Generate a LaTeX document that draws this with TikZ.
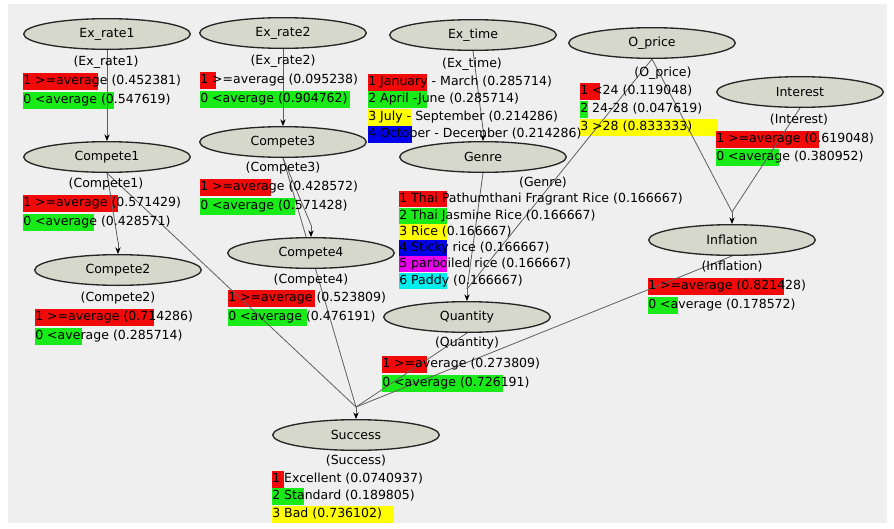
\documentclass[tikz,border=0pt]{standalone}
\usepackage{fontspec}
\setmainfont{DejaVu Sans}
\usetikzlibrary{arrows.meta,shapes.geometric}
\pgfdeclarelayer{bg}
\pgfdeclarelayer{edges}
\pgfsetlayers{bg,edges,main}
\definecolor{bgc}{RGB}{239,239,239}
\definecolor{nodefill}{RGB}{214,216,203}
\definecolor{edgec}{RGB}{95,95,95}
\definecolor{sred}{RGB}{240,10,10}
\definecolor{sgreen}{RGB}{25,235,25}
\definecolor{syellow}{RGB}{255,255,0}
\definecolor{sblue}{RGB}{0,0,235}
\definecolor{smag}{RGB}{235,0,235}
\definecolor{scyan}{RGB}{0,240,240}
\newcommand{\dnfont}{\fontsize{9.4pt}{11pt}\selectfont}
% name, x, y, colour, bar width, bar height, text
\newcommand{\stateline}[7]{%
  \begin{pgfonlayer}{bg}\fill[#4] (#2,#3-#6/2) rectangle ++(#5,#6);\end{pgfonlayer}
  \node[st] (#1) at (#2,#3) {#7};}
\tikzset{
  var/.style={ellipse, draw=black!85, line width=1pt, fill=nodefill,
    minimum width=125pt, minimum height=23pt, inner sep=0pt, font=\dnfont},
  lab/.style={inner sep=0pt, font=\dnfont, text height=7pt, text depth=2pt},
  st/.style={anchor=west, inner sep=0pt, font=\dnfont, text height=7pt, text depth=2pt},
  edge/.style={draw=edgec, line width=0.6pt},
  arr/.style={draw=edgec, line width=0.6pt, -{Stealth[length=5pt,width=4pt,color=black]}},
}
\begin{document}
\begin{tikzpicture}[x=0.75pt,y=-0.75pt]
\useasboundingbox (0,0) rectangle (894,529);
\begin{pgfonlayer}{bg}
\fill[white] (0,0) rectangle (894,529);
\fill[bgc] (8,4) rectangle (887,523);
\end{pgfonlayer}

% ---------- variables ----------
\node[var] (er1) at (107,34) {Ex\_rate1};
\node[var] (er2) at (283,33) {Ex\_rate2};
\node[var] (ext) at (473,35) {Ex\_time};
\node[var] (opr) at (652,43) {O\_price};
\node[var] (int) at (800,92) {Interest};
\node[var] (c1) at (107,157) {Compete1};
\node[var] (c3) at (283,142) {Compete3};
\node[var] (gen) at (483,157) {Genre};
\node[var] (c2) at (118,270) {Compete2};
\node[var] (c4) at (311,253) {Compete4};
\node[var] (inf) at (732,240) {Inflation};
\node[var] (qty) at (467,317) {Quantity};
\node[var] (suc) at (356,435) {Success};

% ---------- state tables ----------
\node[lab] (er1-l) at (106,62) {(Ex\_rate1)};
\stateline{er1-1}{23}{81}{sred}{75}{17}{1 >=average (0.452381)}
\stateline{er1-2}{23}{100}{sgreen}{91}{17}{0 <average (0.547619)}

\node[lab] (er2-l) at (283,61) {(Ex\_rate2)};
\stateline{er2-1}{200}{80}{sred}{16}{17}{1 >=average (0.095238)}
\stateline{er2-2}{200}{99}{sgreen}{150}{17}{0 <average (0.904762)}

\node[lab] (ext-l) at (472,64) {(Ex\_time)};
\stateline{ext-1}{368}{82}{sred}{59}{17}{1 January - March (0.285714)}
\stateline{ext-2}{368}{99}{sgreen}{59}{17}{2 April -June (0.285714)}
\stateline{ext-3}{368}{117}{syellow}{44}{17}{3 July - September (0.214286)}
\stateline{ext-4}{368}{134}{sblue}{44}{17}{4 October - December (0.214286)}

\node[lab] (opr-l) at (663,73) {(O\_price)};
\stateline{opr-1}{580}{91}{sred}{20}{17}{1 <24 (0.119048)}
\stateline{opr-2}{580}{109}{sgreen}{8}{17}{2 24-28 (0.047619)}
\stateline{opr-3}{580}{127}{syellow}{138}{17}{3 >28 (0.833333)}

\node[lab] (int-l) at (799,120) {(Interest)};
\stateline{int-1}{716}{139}{sred}{103}{17}{1 >=average (0.619048)}
\stateline{int-2}{716}{157}{sgreen}{63}{17}{0 <average (0.380952)}

\node[lab] (c1-l) at (106,184) {(Compete1)};
\stateline{c1-1}{23}{203}{sred}{95}{17}{1 >=average (0.571429)}
\stateline{c1-2}{23}{222}{sgreen}{71}{17}{0 <average (0.428571)}

\node[lab] (c3-l) at (283,168) {(Compete3)};
\stateline{c3-1}{200}{187}{sred}{71}{17}{1 >=average (0.428572)}
\stateline{c3-2}{200}{206}{sgreen}{95}{17}{0 <average (0.571428)}

\node[lab] (gen-l) at (543,183) {(Genre)};
\stateline{gen-1}{399}{199}{sred}{48}{16}{1 Thai Pathumthani Fragrant Rice (0.166667)}
\stateline{gen-2}{399}{216}{sgreen}{48}{16}{2 Thai Jasmine Rice (0.166667)}
\stateline{gen-3}{399}{232}{syellow}{48}{16}{3 Rice (0.166667)}
\stateline{gen-4}{399}{248}{sblue}{48}{16}{4 Sticky rice (0.166667)}
\stateline{gen-5}{399}{264}{smag}{48}{16}{5 parboiled rice (0.166667)}
\stateline{gen-6}{399}{281}{scyan}{48}{16}{6 Paddy (0.166667)}

\node[lab] (c2-l) at (118,298) {(Compete2)};
\stateline{c2-1}{35}{317}{sred}{119}{17}{1 >=average (0.714286)}
\stateline{c2-2}{35}{336}{sgreen}{47}{17}{0 <average (0.285714)}

\node[lab] (c4-l) at (311,280) {(Compete4)};
\stateline{c4-1}{228}{298}{sred}{87}{17}{1 >=average (0.523809)}
\stateline{c4-2}{228}{317}{sgreen}{79}{17}{0 <average (0.476191)}

\node[lab] (inf-l) at (732,267) {(Inflation)};
\stateline{inf-1}{648}{286}{sred}{136}{17}{1 >=average (0.821428)}
\stateline{inf-2}{648}{305}{sgreen}{30}{17}{0 <average (0.178572)}

\node[lab] (qty-l) at (467,343) {(Quantity)};
\stateline{qty-1}{382}{364}{sred}{45}{17}{1 >=average (0.273809)}
\stateline{qty-2}{382}{383}{sgreen}{121}{17}{0 <average (0.726191)}

\node[lab] (suc-l) at (356,461) {(Success)};
\stateline{suc-1}{272}{479}{sred}{12}{17}{1 Excellent (0.0740937)}
\stateline{suc-2}{272}{496}{sgreen}{32}{17}{2 Standard (0.189805)}
\stateline{suc-3}{272}{514}{syellow}{122}{17}{3 Bad (0.736102)}

% ---------- entry points ----------
\foreach \n in {c1,c2,c3,c4,gen,qty,inf,suc}
  \coordinate (\n-in) at ([yshift=9pt]\n.north);

% ---------- connectors ----------
\begin{pgfonlayer}{edges}
\draw[edge] (er1.south) -- (c1-in);
\draw[edge] (er2.south) -- (c3-in);
\draw[edge] (c1.south) -- (c2-in);
\draw[edge] (c1.south) -- (suc-in);
\draw[edge] (c3.south) -- (c4-in);
\draw[edge] (c3.south) -- (suc-in);
\draw[edge] (ext.south) -- (gen-in);
\draw[edge] (gen.south) -- (qty-in);
\draw[edge] (opr.south) -- (qty-in);
\draw[edge] (opr.south) -- (inf-in);
\draw[edge] (int.south) -- (inf-in);
\draw[edge] (qty.south) -- (suc-in);
\draw[edge] (inf.south) -- (suc-in);
\foreach \n in {c1,c2,c3,c4,gen,qty,inf,suc}
  \draw[arr] (\n-in) -- (\n.north);
\end{pgfonlayer}
\end{tikzpicture}
\end{document}
